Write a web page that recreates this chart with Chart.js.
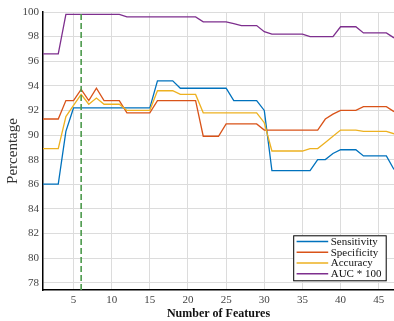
<!DOCTYPE html>
<html>
<head>
<meta charset="utf-8">
<script src="https://cdn.jsdelivr.net/npm/chart.js@4.4.0/dist/chart.umd.min.js"></script>
<style>
    html, body { margin: 0; padding: 0; background: #fff; }
    #wrap { width: 394px; height: 321px; }
</style>
</head>
<body>
<div id="wrap"><canvas id="myChart" width="394" height="321"></canvas></div>
<script>
const features = [1, 2, 3, 4, 5, 6, 7, 8, 9, 10, 11, 12, 13, 14, 15, 16, 17, 18, 19, 20,
    21, 22, 23, 24, 25, 26, 27, 28, 29, 30, 31, 32, 33, 34, 35, 36, 37, 38, 39, 40,
    41, 42, 43, 44, 45, 46, 47];

const sensitivity = [86.0, 86.0, 86.0, 90.3, 92.2, 92.2, 92.2, 92.2, 92.2, 92.2,
    92.2, 92.2, 92.2, 92.2, 92.2, 94.4, 94.4, 94.4, 93.8, 93.8,
    93.8, 93.8, 93.8, 93.8, 93.8, 92.8, 92.8, 92.8, 92.8, 92.0,
    87.1, 87.1, 87.1, 87.1, 87.1, 87.1, 88.0, 88.0, 88.5, 88.8,
    88.8, 88.8, 88.3, 88.3, 88.3, 88.3, 87.2];

const specificity = [91.3, 91.3, 91.3, 92.8, 92.8, 93.7, 92.8, 93.8, 92.8, 92.8,
    92.8, 91.8, 91.8, 91.8, 91.8, 92.8, 92.8, 92.8, 92.8, 92.8,
    92.8, 89.9, 89.9, 89.9, 90.9, 90.9, 90.9, 90.9, 90.9, 90.4,
    90.4, 90.4, 90.4, 90.4, 90.4, 90.4, 90.4, 91.3, 91.7, 92.0,
    92.0, 92.0, 92.3, 92.3, 92.3, 92.3, 91.9];

const accuracy = [88.9, 88.9, 88.9, 91.5, 92.4, 93.3, 92.5, 93.0, 92.5, 92.5,
    92.5, 92.0, 92.0, 92.0, 92.0, 93.6, 93.6, 93.6, 93.3, 93.3,
    93.3, 91.8, 91.8, 91.8, 91.8, 91.8, 91.8, 91.8, 91.8, 91.0,
    88.7, 88.7, 88.7, 88.7, 88.7, 88.9, 88.9, 89.4, 89.9, 90.4,
    90.4, 90.4, 90.3, 90.3, 90.3, 90.3, 90.1];

const auc100 = [96.6, 96.6, 96.6, 99.8, 99.8, 99.8, 99.8, 99.8, 99.8, 99.8,
    99.8, 99.6, 99.6, 99.6, 99.6, 99.6, 99.6, 99.6, 99.6, 99.6,
    99.6, 99.2, 99.2, 99.2, 99.2, 99.05, 98.9, 98.9, 98.9, 98.4,
    98.2, 98.2, 98.2, 98.2, 98.2, 98.0, 98.0, 98.0, 98.0, 98.8,
    98.8, 98.8, 98.3, 98.3, 98.3, 98.3, 97.9];

const selectedFeatures = 6;

const xTicks = [5, 10, 15, 20, 25, 30, 35, 40, 45];
const yTicks = [78, 80, 82, 84, 86, 88, 90, 92, 94, 96, 98, 100];
const xRange = [1, 47];
const yRange = [77.4, 100];

const serif = "'Liberation Serif', 'DejaVu Serif', serif";

function toPoints(values) {
    return values.map((v, i) => ({ x: features[i], y: v }));
}

function lineSet(label, values, color, order) {
    return {
        label: label,
        data: toPoints(values),
        borderColor: color,
        backgroundColor: color,
        borderWidth: 1.3,
        pointRadius: 0,
        tension: 0,
        fill: false,
        order: order,
    };
}

// legend box drawn inside the plot, bottom right
const insideLegend = {
    id: "insideLegend",
    afterDraw(chart) {
        const { ctx, chartArea } = chart;
        const sets = chart.data.datasets.filter((d) => !d.hideInLegend);
        const w = 93.5;
        const h = 46;
        const left = chartArea.right - 7.3 - w;
        const top = chartArea.bottom - 8.7 - h;
        ctx.save();
        ctx.fillStyle = "#fff";
        ctx.fillRect(left, top, w, h);
        ctx.strokeStyle = "#000";
        ctx.lineWidth = 1;
        ctx.strokeRect(left + 0.5, top + 0.5, w - 1, h - 1);
        ctx.font = "11px " + serif;
        ctx.textBaseline = "middle";
        ctx.textAlign = "left";
        sets.forEach((d, i) => {
            const y = top + 6.3 + i * 10.7;
            ctx.strokeStyle = d.borderColor;
            ctx.lineWidth = 1.5;
            ctx.beginPath();
            ctx.moveTo(left + 3.4, y);
            ctx.lineTo(left + 35, y);
            ctx.stroke();
            ctx.fillStyle = "#111";
            ctx.fillText(d.label, left + 37.5, y + 0.5);
        });
        ctx.restore();
    },
};

const ctx = document.getElementById("myChart").getContext("2d");
const chart = new Chart(ctx, {
    type: "line",
    data: {
        datasets: [
            {
                label: "selected",
                data: [
                    { x: selectedFeatures, y: yRange[0] },
                    { x: selectedFeatures, y: yRange[1] },
                ],
                borderColor: "#4c9a4c",
                borderWidth: 1.6,
                borderDash: [6, 3],
                pointRadius: 0,
                fill: false,
                order: 0,
                hideInLegend: true,
            },
            lineSet("Sensitivity", sensitivity, "#0072BD", 4),
            lineSet("Specificity", specificity, "#D95319", 3),
            lineSet("Accuracy", accuracy, "#EDB120", 2),
            lineSet("AUC * 100", auc100, "#7E2F8E", 1),
        ],
    },
    options: {
        responsive: false,
        animation: false,
        parsing: true,
        layout: {
            padding: { top: 12, right: 0, left: 0, bottom: 0 },
        },
        scales: {
            x: {
                type: "linear",
                min: xRange[0],
                max: xRange[1],
                afterBuildTicks: (axis) => {
                    axis.ticks = xTicks.map((v) => ({ value: v }));
                },
                afterFit: (axis) => {
                    axis.height = 31;
                },
                grid: {
                    color: "#dcdcdc",
                    drawTicks: false,
                },
                border: { color: "#000", width: 1.5 },
                ticks: {
                    color: "#444",
                    padding: 4,
                    maxRotation: 0,
                    font: { family: serif, size: 11 },
                },
                title: {
                    display: true,
                    text: "Number of Features",
                    color: "#111",
                    padding: { top: 1, bottom: 0 },
                    font: { family: serif, size: 12, weight: "bold" },
                },
            },
            y: {
                min: yRange[0],
                max: yRange[1],
                afterBuildTicks: (axis) => {
                    axis.ticks = yTicks.map((v) => ({ value: v }));
                },
                afterFit: (axis) => {
                    axis.width = 43;
                },
                grid: {
                    color: "#dcdcdc",
                    drawTicks: false,
                },
                border: { color: "#000", width: 1.5 },
                ticks: {
                    color: "#444",
                    padding: 4,
                    font: { family: serif, size: 11 },
                },
                title: {
                    display: true,
                    text: "Percentage",
                    color: "#333",
                    padding: { top: 4, bottom: 0 },
                    font: { family: serif, size: 15 },
                },
            },
        },
        plugins: {
            legend: { display: false },
            tooltip: { enabled: false },
        },
    },
    plugins: [insideLegend],
});
</script>
</body>
</html>
